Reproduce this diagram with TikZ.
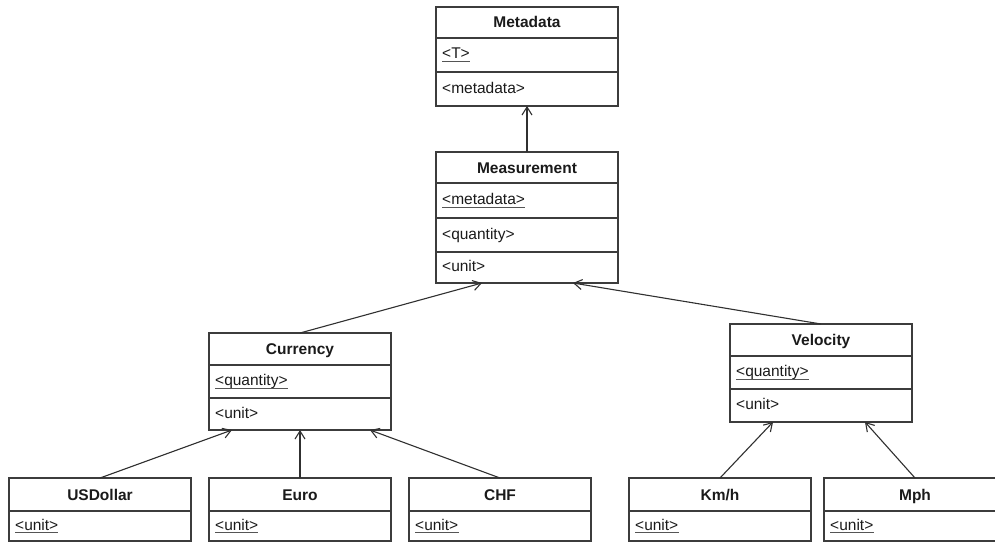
\documentclass[tikz,border=0pt]{standalone}
\usepackage{fontspec}
\setmainfont{Liberation Sans}
\usetikzlibrary{arrows.meta,calc}

\definecolor{boxgray}{HTML}{3C3C3C}
\definecolor{linegray}{HTML}{303030}
\definecolor{textblack}{HTML}{1A1A1A}
\definecolor{ulgray}{HTML}{555555}

\tikzset{
  classbox/.style={draw=boxgray, line width=1.3pt, minimum width=182pt,
    anchor=north west, inner sep=0pt, outer sep=0pt},
  divider/.style={draw=boxgray, line width=1.3pt},
  classtitle/.style={font=\fontsize{15.5}{18}\selectfont\bfseries, anchor=base,
    inner sep=0pt, text=textblack},
  attr/.style={font=\fontsize{15.5}{18}\selectfont, anchor=base west,
    inner sep=0pt, text=textblack},
  uline/.style={draw=ulgray, line width=1.3pt},
  inherit/.style={draw=linegray, line width=1.1pt,
    -{Straight Barb[length=8pt,width=10pt,line width=1.1pt]}},
}

\begin{document}
\begin{tikzpicture}[x=1pt,y=-1pt]
\clip (0,0) rectangle (995,543);
\fill[white] (0,0) rectangle (995,543);

% ---- Metadata ----
\node[classbox, minimum height=99pt] (metadata) at (436,7) {};
\draw[divider] (436,38) -- (618,38);
\draw[divider] (436,72) -- (618,72);
\node[classtitle] (metadata-t) at (527,28) {Metadata};
\node[attr] (metadata-a1) at (442,59) {<T>};
\draw[uline] ($(metadata-a1.base west)+(0,2.8)$) -- ($(metadata-a1.base east)+(0,2.8)$);
\node[attr] (metadata-a2) at (442,93) {<metadata>};

% ---- Measurement ----
\node[classbox, minimum height=131pt] (measurement) at (436,152) {};
\draw[divider] (436,183) -- (618,183);
\draw[divider] (436,218) -- (618,218);
\draw[divider] (436,252) -- (618,252);
\node[classtitle] (measurement-t) at (527,173) {Measurement};
\node[attr] (measurement-a1) at (442,204.5) {<metadata>};
\draw[uline] ($(measurement-a1.base west)+(0,2.8)$) -- ($(measurement-a1.base east)+(0,2.8)$);
\node[attr] (measurement-a2) at (442,239) {<quantity>};
\node[attr] (measurement-a3) at (442,271.5) {<unit>};

% ---- Currency ----
\node[classbox, minimum height=97pt] (currency) at (209,333) {};
\draw[divider] (209,365) -- (391,365);
\draw[divider] (209,398) -- (391,398);
\node[classtitle] (currency-t) at (300,354.5) {Currency};
\node[attr] (currency-a1) at (215,385.5) {<quantity>};
\draw[uline] ($(currency-a1.base west)+(0,2.8)$) -- ($(currency-a1.base east)+(0,2.8)$);
\node[attr] (currency-a2) at (215,418) {<unit>};

% ---- Velocity ----
\node[classbox, minimum height=98pt] (velocity) at (730,324) {};
\draw[divider] (730,356) -- (912,356);
\draw[divider] (730,389) -- (912,389);
\node[classtitle] (velocity-t) at (821,345.5) {Velocity};
\node[attr] (velocity-a1) at (736,376.5) {<quantity>};
\draw[uline] ($(velocity-a1.base west)+(0,2.8)$) -- ($(velocity-a1.base east)+(0,2.8)$);
\node[attr] (velocity-a2) at (736,409.5) {<unit>};

% ---- Leaf classes ----
\foreach \nm/\lbl/\x in {usdollar/USDollar/9, euro/Euro/209, chf/CHF/409,
                         kmh/Km\slash h/629, mph/Mph/824} {
  \node[classbox, minimum height=63pt] (\nm) at (\x,478) {};
  \draw[divider] (\x,511) -- ({\x+182},511);
  \node[classtitle] (\nm-t) at ({\x+91},500) {\lbl};
  \node[attr] (\nm-a1) at ({\x+6},530) {<unit>};
  \draw[uline] ($(\nm-a1.base west)+(0,2.8)$) -- ($(\nm-a1.base east)+(0,2.8)$);
}

% ---- Generalisations ----
\draw[inherit] (measurement.north) -- (metadata.south);
\draw[inherit] (currency.north) -- ($(measurement.south west)+(46,0)$);
\draw[inherit] (velocity.north) -- ($(measurement.south west)+(137,0)$);
\draw[inherit] (usdollar.north) -- ($(currency.south west)+(23,0)$);
\draw[inherit] (euro.north) -- (currency.south);
\draw[inherit] (chf.north) -- ($(currency.south west)+(161,0)$);
\draw[inherit] (kmh.north) -- ($(velocity.south west)+(43,0)$);
\draw[inherit] (mph.north) -- ($(velocity.south west)+(135,0)$);
\end{tikzpicture}
\end{document}
